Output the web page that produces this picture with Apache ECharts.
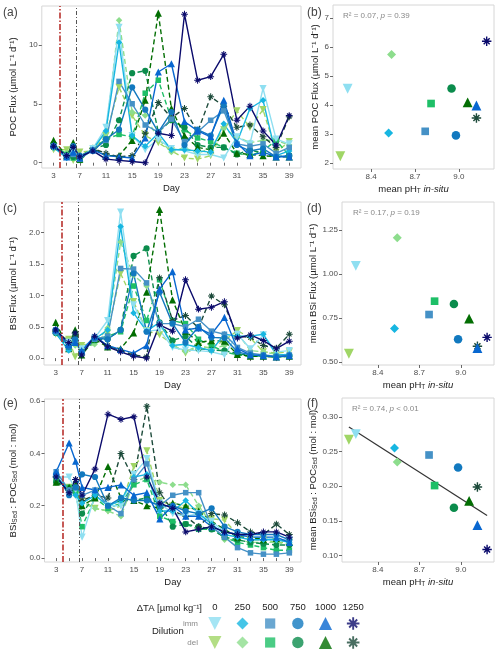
<!DOCTYPE html>
<html>
<head>
<meta charset="utf-8">
<script src="https://cdn.jsdelivr.net/npm/echarts@6/dist/echarts.min.js"></script>
<style>
html, body { margin: 0; padding: 0; background: #fff; }
#chart { width: 500px; height: 653px; }
</style>
</head>
<body>
<div id="chart"></div>
<script>
// sampling days
const days = [3, 5, 6, 7, 9, 11, 13, 15, 17, 19, 21, 23, 25, 27, 29, 31, 33, 35, 37, 39];
const taLevels = ['0', '250', '500', '750', '1000', '1250'];
const dilutions = ['imm', 'del'];

// POC flux (µmol L-1 d-1), one row per TA level
const pocImm = [
  [1.3, 0.5, 1.0, 0.4, 1.2, 3.0, 11.5, 2.3, 1.1, 2.0, 1.2, 1.0, 0.7, 0.7, 0.4, 2.2, 1.6, 6.3, 2.0, 1.6],
  [1.3, 0.4, 0.8, 0.5, 1.1, 2.7, 10.2, 2.3, 1.4, 2.5, 1.1, 1.1, 1.0, 0.9, 3.3, 1.7, 4.6, 5.3, 0.6, 1.0],
  [1.4, 0.6, 0.7, 0.3, 1.1, 1.9, 6.9, 5.0, 3.2, 2.6, 3.7, 1.8, 2.6, 3.6, 4.4, 1.6, 1.4, 1.6, 0.8, 1.3],
  [1.4, 0.5, 1.4, 0.6, 1.0, 2.0, 2.8, 6.4, 4.5, 2.6, 4.3, 1.5, 2.8, 2.3, 4.9, 1.5, 1.0, 1.2, 0.5, 0.6],
  [1.5, 0.5, 0.9, 0.4, 1.1, 0.6, 0.5, 0.4, 2.1, 7.7, 8.4, 3.5, 2.7, 2.2, 5.3, 1.7, 0.6, 0.9, 0.5, 0.5],
  [1.4, 0.6, 1.3, 0.5, 1.0, 0.3, 0.2, 0.1, 0.0, 2.5, 2.3, 12.6, 7.0, 7.3, 9.2, 3.6, 4.8, 2.7, 1.5, 4.0]
];
const pocDel = [
  [1.1, 1.1, 0.2, 0.9, 1.0, 2.3, 6.4, 4.0, 2.3, 1.7, 1.0, 0.4, 0.3, 0.6, 2.8, 4.4, 3.0, 4.5, 0.9, 1.8],
  [1.2, 0.8, 0.6, 0.5, 1.3, 2.5, 12.1, 4.3, 4.0, 2.0, 0.9, 1.3, 0.8, 1.2, 2.9, 2.2, 1.7, 1.9, 1.9, 1.5],
  [1.5, 0.7, 0.4, 0.2, 1.2, 2.0, 2.4, 2.2, 5.9, 7.0, 3.7, 2.8, 2.1, 1.8, 1.3, 0.8, 0.6, 1.0, 1.9, 0.6],
  [1.6, 0.6, 0.5, 0.3, 1.2, 1.5, 3.6, 7.6, 7.8, 2.6, 3.6, 3.0, 1.5, 1.3, 1.3, 0.7, 1.1, 0.8, 0.5, 0.6],
  [1.9, 0.6, 1.7, 0.3, 1.2, 0.6, 0.6, 1.9, 5.3, 12.7, 4.6, 2.3, 1.3, 1.1, 2.5, 0.8, 0.7, 0.6, 0.5, 0.5],
  [1.3, 0.6, 1.2, 0.5, 1.2, 0.8, 0.5, 0.6, 2.5, 5.1, 3.8, 4.6, 2.6, 5.6, 4.8, 3.0, 3.2, 2.2, 1.3, 3.9]
];

// BSi flux (µmol L-1 d-1)
const bsiImm = [
  [0.42, 0.25, 0.25, 0.15, 0.32, 0.60, 2.33, 0.85, 0.43, 0.45, 0.17, 0.13, 0.12, 0.10, 0.05, 0.38, 0.15, 0.37, 0.10, 0.12],
  [0.40, 0.12, 0.30, 0.10, 0.30, 0.45, 2.10, 0.72, 0.43, 0.57, 0.20, 0.22, 0.17, 0.12, 0.38, 0.35, 0.35, 0.38, 0.05, 0.06],
  [0.42, 0.20, 0.28, 0.08, 0.30, 0.35, 1.43, 1.42, 1.20, 0.55, 0.55, 0.50, 0.62, 0.43, 0.38, 0.17, 0.08, 0.05, 0.03, 0.05],
  [0.45, 0.18, 0.30, 0.10, 0.32, 0.30, 0.45, 1.35, 0.42, 1.05, 0.55, 0.25, 0.50, 0.33, 0.32, 0.10, 0.05, 0.04, 0.02, 0.04],
  [0.45, 0.22, 0.25, 0.12, 0.35, 0.20, 0.14, 0.08, 0.20, 1.10, 1.38, 0.45, 0.48, 0.38, 0.65, 0.15, 0.05, 0.04, 0.02, 0.04],
  [0.45, 0.25, 0.40, 0.05, 0.35, 0.18, 0.10, 0.03, 0.00, 0.53, 0.43, 1.25, 0.78, 0.81, 0.90, 0.32, 0.37, 0.28, 0.15, 0.27]
];
const bsiDel = [
  [0.38, 0.30, 0.02, 0.20, 0.25, 0.40, 1.35, 0.90, 0.44, 0.37, 0.22, 0.08, 0.18, 0.17, 0.28, 0.44, 0.32, 0.10, 0.08, 0.10],
  [0.40, 0.28, 0.20, 0.15, 0.22, 0.48, 1.85, 1.32, 1.15, 0.55, 0.20, 0.10, 0.20, 0.15, 0.20, 0.40, 0.12, 0.10, 0.06, 0.05],
  [0.42, 0.18, 0.30, 0.08, 0.28, 0.35, 0.42, 1.15, 0.60, 1.25, 0.60, 0.55, 0.30, 0.20, 0.10, 0.05, 0.03, 0.03, 0.02, 0.03],
  [0.40, 0.15, 0.35, 0.10, 0.30, 0.30, 0.45, 1.63, 1.75, 0.57, 0.28, 0.35, 0.15, 0.13, 0.12, 0.07, 0.04, 0.03, 0.02, 0.03],
  [0.57, 0.15, 0.45, 0.05, 0.30, 0.18, 0.15, 0.40, 1.05, 2.37, 0.93, 0.43, 0.25, 0.28, 0.27, 0.06, 0.03, 0.03, 0.02, 0.03],
  [0.43, 0.20, 0.35, 0.10, 0.33, 0.20, 0.12, 0.05, 0.02, 1.28, 0.60, 0.68, 0.48, 0.99, 0.85, 0.35, 0.33, 0.20, 0.16, 0.38]
];

// BSi_Sed : POC_Sed (mol:mol)
const ratioImm = [
  [0.31, 0.31, 0.26, 0.08, 0.24, 0.20, 0.20, 0.32, 0.38, 0.21, 0.17, 0.16, 0.17, 0.14, 0.10, 0.09, 0.08, 0.08, 0.07, 0.07],
  [0.31, 0.26, 0.24, 0.21, 0.24, 0.20, 0.22, 0.31, 0.32, 0.18, 0.18, 0.22, 0.17, 0.13, 0.09, 0.08, 0.07, 0.07, 0.07, 0.06],
  [0.33, 0.26, 0.27, 0.24, 0.26, 0.20, 0.17, 0.30, 0.36, 0.20, 0.24, 0.25, 0.25, 0.12, 0.08, 0.04, 0.02, 0.015, 0.015, 0.02],
  [0.32, 0.24, 0.27, 0.32, 0.31, 0.20, 0.23, 0.22, 0.22, 0.20, 0.20, 0.18, 0.17, 0.19, 0.12, 0.10, 0.09, 0.09, 0.09, 0.07],
  [0.33, 0.44, 0.37, 0.27, 0.26, 0.27, 0.28, 0.24, 0.25, 0.15, 0.20, 0.16, 0.16, 0.12, 0.10, 0.09, 0.08, 0.08, 0.08, 0.06],
  [0.31, 0.25, 0.30, 0.24, 0.34, 0.55, 0.53, 0.54, 0.31, 0.21, 0.19, 0.10, 0.11, 0.12, 0.10, 0.09, 0.09, 0.10, 0.10, 0.08]
];
const ratioDel = [
  [0.30, 0.27, 0.24, 0.22, 0.19, 0.18, 0.20, 0.35, 0.41, 0.22, 0.20, 0.19, 0.19, 0.15, 0.145, 0.09, 0.07, 0.07, 0.06, 0.06],
  [0.30, 0.27, 0.25, 0.21, 0.19, 0.18, 0.16, 0.29, 0.31, 0.29, 0.28, 0.28, 0.20, 0.13, 0.07, 0.07, 0.06, 0.06, 0.06, 0.05],
  [0.30, 0.27, 0.25, 0.12, 0.23, 0.19, 0.21, 0.28, 0.30, 0.16, 0.14, 0.13, 0.11, 0.11, 0.08, 0.06, 0.05, 0.04, 0.03, 0.03],
  [0.29, 0.26, 0.27, 0.17, 0.24, 0.20, 0.22, 0.22, 0.23, 0.21, 0.12, 0.13, 0.12, 0.11, 0.08, 0.07, 0.06, 0.055, 0.05, 0.05],
  [0.29, 0.27, 0.28, 0.20, 0.23, 0.35, 0.23, 0.22, 0.20, 0.19, 0.21, 0.20, 0.18, 0.14, 0.11, 0.08, 0.08, 0.07, 0.075, 0.06],
  [0.31, 0.26, 0.30, 0.22, 0.24, 0.23, 0.40, 0.30, 0.58, 0.25, 0.18, 0.16, 0.12, 0.17, 0.165, 0.135, 0.10, 0.09, 0.13, 0.09]
];

// means per treatment vs mean pH
const phImm = [8.24, 8.52, 8.77, 8.98, 9.12, 9.19];
const phDel = [8.19, 8.54, 8.81, 8.95, 9.06, 9.12];
const meanPocImm = [4.56, 3.03, 3.09, 2.95, 3.98, 6.20];
const meanPocDel = [2.23, 5.74, 4.05, 4.57, 4.09, 3.55];
const meanBsiImm = [1.047, 0.69, 0.77, 0.63, 0.58, 0.64];
const meanBsiDel = [0.547, 1.206, 0.846, 0.83, 0.747, 0.59];
const meanRatioImm = [0.275, 0.255, 0.245, 0.227, 0.144, 0.109];
const meanRatioDel = [0.267, 0.235, 0.201, 0.169, 0.179, 0.199];

const dayLabels = [3, 7, 11, 15, 19, 23, 27, 31, 35, 39];
const dayTicks = [3, 5, 7, 9, 11, 13, 15, 17, 19, 21, 23, 25, 27, 29, 31, 33, 35, 37, 39];
const phTicks = [8.4, 8.7, 9.0];

const immColors = ['#8fdff1', '#17b6e1', '#4591c6', '#1279bf', '#0867d0', '#0b0b6c'];
const delColors = ['#a0d666', '#8ddd8d', '#1ebf67', '#0b8c4c', '#036e03', '#1c4a3a'];
const asterisk = 'path://M0 8.5L20 8.5L20 11.5L0 11.5ZM8.5 0L11.5 0L11.5 20L8.5 20ZM4.697 2.575L17.425 15.303L15.303 17.425L2.575 4.697ZM2.575 15.303L15.303 2.575L17.425 4.697L4.697 17.425Z';
const symbols = ['triangle', 'diamond', 'rect', 'circle', 'triangle', asterisk];
const rotations = [180, 0, 0, 0, 0, 0];
const sizeScale = [1.1, 1.0, 0.85, 0.95, 1.1, 1.05];

const FONT = 'Liberation Sans, Arial, sans-serif';
const tickColor = '#4d4d4d';

const chart = echarts.init(document.getElementById('chart'));

const grids = [
  { left: 33, top: 6, width: 268, height: 162 },
  { left: 333, top: 5, width: 161, height: 164 },
  { left: 35, top: 202, width: 266, height: 163 },
  { left: 342, top: 202, width: 152, height: 163 },
  { left: 35, top: 399, width: 266, height: 163 },
  { left: 342, top: 398, width: 152, height: 164 },
  { left: 201, top: 614, width: 166, height: 38 }
].map((g, i) => Object.assign(g, i < 6 ? { show: true, borderColor: '#d6d6d6', borderWidth: 1 } : {}));

const nameRich = {
  n: { fontSize: 9.5, fontFamily: FONT, color: '#222' },
  s: { fontSize: 6.5, fontFamily: FONT, color: '#222', verticalAlign: 'bottom', padding: [4, 0, 0, 0] },
  i: { fontSize: 9.5, fontFamily: FONT, color: '#222', fontStyle: 'italic' }
};

function baseAxis(gridIndex) {
  return {
    gridIndex,
    type: 'value',
    splitLine: { show: false },
    axisLine: { show: false },
    axisTick: { show: true, length: 3, lineStyle: { color: '#444', width: 0.8 } },
    axisLabel: { fontSize: 8, color: tickColor, fontFamily: FONT, margin: 4 },
    nameLocation: 'middle',
    nameTextStyle: { rich: nameRich }
  };
}

function dayAxis(gridIndex) {
  const a = baseAxis(gridIndex);
  a.min = 1.2; a.max = 40.8;
  a.axisLabel.customValues = dayLabels;
  a.axisTick.customValues = dayTicks;
  a.name = '{n|Day}';
  a.nameGap = 15;
  return a;
}

function phAxis(gridIndex) {
  const a = baseAxis(gridIndex);
  a.min = 8.14; a.max = 9.24;
  a.axisLabel.customValues = phTicks;
  a.axisLabel.formatter = v => v.toFixed(1);
  a.axisTick.customValues = phTicks;
  a.name = '{n|mean pH}{s|T}{i| in-situ}';
  a.nameGap = 15;
  return a;
}

function yAxis(gridIndex, min, max, ticks, dec, name, gap) {
  const a = baseAxis(gridIndex);
  a.min = min; a.max = max;
  a.axisLabel.customValues = ticks;
  a.axisLabel.formatter = v => v.toFixed(dec);
  a.axisTick.customValues = ticks;
  a.name = name;
  a.nameRotate = 90;
  a.nameGap = gap;
  return a;
}

const xAxes = [dayAxis(0), phAxis(1), dayAxis(2), phAxis(3), dayAxis(4), phAxis(5)];
const yAxes = [
  yAxis(0, -0.45, 13.3, [0, 5, 10], 0, '{n|POC Flux (µmol L⁻¹ d⁻¹)}', 14),
  yAxis(1, 1.79, 7.45, [2, 3, 4, 5, 6, 7], 0, '{n|mean POC Flux (µmol L⁻¹ d⁻¹)}', 12),
  yAxis(2, -0.11, 2.49, [0, 0.5, 1, 1.5, 2], 1, '{n|BSi Flux (µmol L⁻¹ d⁻¹)}', 18),
  yAxis(3, 0.483, 1.41, [0.5, 0.75, 1, 1.25], 2, '{n|mean BSi Flux (µmol L⁻¹ d⁻¹)}', 20),
  yAxis(4, -0.015, 0.608, [0, 0.2, 0.4, 0.6], 1, '{n|BSi}{s|Sed}{n| : POC}{s|Sed}{n| (mol : mol)}', 18),
  yAxis(5, 0.091, 0.327, [0.1, 0.15, 0.2, 0.25, 0.3], 2, '{n|mean BSi}{s|Sed}{n| : POC}{s|Sed}{n| (mol : mol)}', 20)
];

// legend axes (category)
xAxes.push({
  gridIndex: 6, type: 'category', data: taLevels, position: 'top',
  axisLine: { show: false }, axisTick: { show: false }, splitLine: { show: false },
  axisLabel: { fontSize: 9.5, color: '#222', fontFamily: FONT, margin: 2 }
});
yAxes.push({
  gridIndex: 6, type: 'category', data: dilutions, inverse: true,
  axisLine: { show: false }, axisTick: { show: false }, splitLine: { show: false },
  axisLabel: { fontSize: 8, color: '#8a8a8a', fontFamily: FONT, margin: 3 }
});

const series = [];
const markLines = {
  silent: true, symbol: 'none', label: { show: false }, animation: false,
  data: [
    { xAxis: 4, lineStyle: { color: '#b8312d', width: 1.6, type: [6, 2, 1.5, 2] } },
    { xAxis: 6.5, lineStyle: { color: '#555555', width: 1, type: [4, 2, 1, 2] } }
  ]
};

const timePanels = [
  { idx: 0, imm: pocImm, del: pocDel },
  { idx: 2, imm: bsiImm, del: bsiDel },
  { idx: 4, imm: ratioImm, del: ratioDel }
];
timePanels.forEach(p => {
  let first = true;
  [['del', p.del, delColors, 'dashed'], ['imm', p.imm, immColors, 'solid']].forEach(([dil, rows, colors, ltype]) => {
    rows.forEach((row, k) => {
      const s = {
        type: 'line',
        name: dil + taLevels[k],
        xAxisIndex: p.idx, yAxisIndex: p.idx,
        data: days.map((d, j) => [d, row[j]]),
        symbol: symbols[k],
        symbolRotate: rotations[k],
        symbolSize: 6.5 * sizeScale[k],
        showAllSymbol: true,
        itemStyle: { color: colors[k] },
        lineStyle: { color: colors[k], width: 1.4, type: ltype === 'dashed' ? [5, 3] : 'solid' },
        silent: true
      };
      if (first) { s.markLine = markLines; first = false; }
      series.push(s);
    });
  });
});

const scatterPanels = [
  { idx: 1, imm: meanPocImm, del: meanPocDel },
  { idx: 3, imm: meanBsiImm, del: meanBsiDel },
  { idx: 5, imm: meanRatioImm, del: meanRatioDel }
];
scatterPanels.forEach(p => {
  [['del', p.del, phDel, delColors], ['imm', p.imm, phImm, immColors]].forEach(([dil, vals, ph, colors]) => {
    vals.forEach((v, k) => {
      series.push({
        type: 'scatter',
        xAxisIndex: p.idx, yAxisIndex: p.idx,
        data: [[ph[k], v]],
        symbol: symbols[k],
        symbolRotate: rotations[k],
        symbolSize: 9 * sizeScale[k],
        itemStyle: { color: colors[k], opacity: 1 },
        silent: true
      });
    });
  });
});

// linear fit for panel f
const fx = phImm.concat(phDel);
const fy = meanRatioImm.concat(meanRatioDel);
const mx = fx.reduce((a, b) => a + b, 0) / fx.length;
const my = fy.reduce((a, b) => a + b, 0) / fy.length;
let sxy = 0, sxx = 0;
fx.forEach((x, i) => { sxy += (x - mx) * (fy[i] - my); sxx += (x - mx) * (x - mx); });
const slope = sxy / sxx;
const x0 = Math.min(...fx), x1 = Math.max(...fx);
series.push({
  type: 'line', xAxisIndex: 5, yAxisIndex: 5, symbol: 'none', silent: true, z: 1,
  data: [[x0, my + slope * (x0 - mx)], [x1, my + slope * (x1 - mx)]],
  lineStyle: { color: '#333', width: 1.2 }
});

// legend glyphs
dilutions.forEach((dil, r) => {
  const colors = r === 0 ? immColors : delColors;
  taLevels.forEach((t, k) => {
    series.push({
      type: 'scatter', xAxisIndex: 6, yAxisIndex: 6, silent: true,
      data: [[t, dil]],
      symbol: symbols[k], symbolRotate: rotations[k],
      symbolSize: 12 * sizeScale[k],
      itemStyle: { color: colors[k] }
    });
  });
});

const panelLabel = (txt, x, y) => ({
  type: 'text', left: x, top: y,
  style: { text: txt, fontSize: 12, fill: '#444', font: '12px ' + FONT }
});
const statText = (r2, pTxt, x, y) => ({
  type: 'text', left: x, top: y,
  style: {
    text: '{a|R² = ' + r2 + ', }{b|p}{a| ' + pTxt + '}',
    rich: {
      a: { fontSize: 8, fill: '#888', fontFamily: FONT },
      b: { fontSize: 8, fill: '#888', fontFamily: FONT, fontStyle: 'italic' }
    }
  }
});

chart.setOption({
  animation: false,
  backgroundColor: '#fff',
  textStyle: { fontFamily: FONT },
  grid: grids,
  xAxis: xAxes,
  yAxis: yAxes,
  series,
  graphic: [
    panelLabel('(a)', 3, 7),
    panelLabel('(b)', 307, 7),
    panelLabel('(c)', 3, 203),
    panelLabel('(d)', 307, 203),
    panelLabel('(e)', 3, 398),
    panelLabel('(f)', 307, 398),
    statText('0.07', '= 0.39', 343, 12),
    statText('0.17', '= 0.19', 353, 209),
    statText('0.74', '< 0.01', 352, 405),
    {
      type: 'text', right: 500 - 202, top: 603,
      style: { text: 'ΔTA [µmol kg⁻¹]', fontSize: 9.5, fill: '#222', fontFamily: FONT }
    },
    {
      type: 'text', left: 152, top: 626,
      style: { text: 'Dilution', fontSize: 9.5, fill: '#222', fontFamily: FONT }
    }
  ]
});
</script>
</body>
</html>
